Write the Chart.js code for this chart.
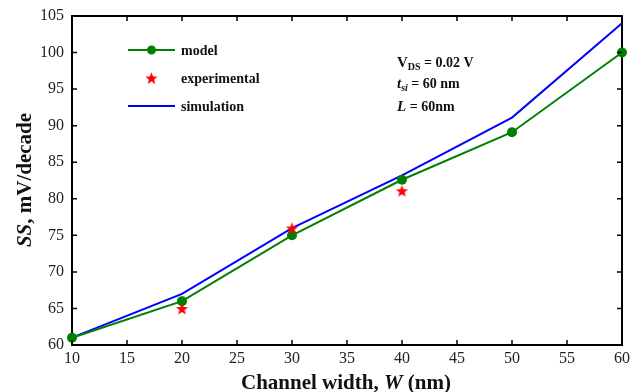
<!DOCTYPE html>
<html>
<head>
<meta charset="utf-8">
<script src="https://cdn.jsdelivr.net/npm/chart.js@4"></script>
<style>
  html, body { margin: 0; padding: 0; background: #fff; }
  #wrap { width: 630px; height: 392px; }
</style>
</head>
<body>
<div id="wrap"><canvas id="ss"></canvas></div>
<script>
const widths = [10, 20, 30, 40, 50, 60];
const modelValues = [61, 66, 75, 82.6, 89.1, 100];
const simulationValues = [61, 67, 76, 83.2, 91.1, 104];
const expWidths = [20, 30, 40];
const expValues = [65, 76, 81.1];
const xTicks = [10, 15, 20, 25, 30, 35, 40, 45, 50, 55, 60];
const yTicks = [60, 65, 70, 75, 80, 85, 90, 95, 100, 105];

const FONT = "'Liberation Serif', 'Times New Roman', serif";

// filled 5-point star for experimental points
function makeStar(r, color) {
  const c = document.createElement('canvas');
  c.width = c.height = Math.ceil(r * 2 + 2);
  const g = c.getContext('2d');
  g.fillStyle = color;
  g.beginPath();
  for (let i = 0; i < 10; i++) {
    const rad = i % 2 == 0 ? r : r * 0.42;
    const a = -Math.PI / 2 + i * Math.PI / 5;
    const px = c.width / 2 + rad * Math.cos(a), py = c.height / 2 + rad * Math.sin(a) + r * 0.1;
    if (i == 0) g.moveTo(px, py); else g.lineTo(px, py);
  }
  g.closePath();
  g.fill();
  return c;
}
const star = makeStar(6.5, '#ff0000');

// draw mixed-style text pieces: [text, italic, sizeOverride, dy]
function drawRuns(ctx, runs, x, y, size, align) {
  let total = 0;
  runs.forEach(r => {
    ctx.font = `${r[1] ? 'italic ' : ''}bold ${r[2] || size}px ${FONT}`;
    total += ctx.measureText(r[0]).width;
  });
  let cx = align == 'center' ? x - total / 2 : x;
  runs.forEach(r => {
    ctx.font = `${r[1] ? 'italic ' : ''}bold ${r[2] || size}px ${FONT}`;
    ctx.fillText(r[0], cx, y + (r[3] || 0));
    cx += ctx.measureText(r[0]).width;
  });
}

const decorations = {
  id: 'decorations',
  afterDraw(chart) {
    const ctx = chart.ctx;
    const a = chart.chartArea;
    const xs = chart.scales.x, ys = chart.scales.y;
    ctx.save();
    // inward ticks on all four sides
    ctx.strokeStyle = '#000';
    ctx.lineWidth = 1.5;
    ctx.beginPath();
    xTicks.forEach(v => {
      const px = xs.getPixelForValue(v);
      ctx.moveTo(px, a.bottom); ctx.lineTo(px, a.bottom - 5);
      ctx.moveTo(px, a.top); ctx.lineTo(px, a.top + 5);
    });
    yTicks.forEach(v => {
      const py = ys.getPixelForValue(v);
      ctx.moveTo(a.left, py); ctx.lineTo(a.left + 5, py);
      ctx.moveTo(a.right, py); ctx.lineTo(a.right - 5, py);
    });
    ctx.stroke();

    ctx.fillStyle = '#111';
    ctx.textBaseline = 'alphabetic';
    ctx.textAlign = 'left';
    // x title
    drawRuns(ctx, [['Channel width, ', false], ['W', true], [' (nm)', false]], 346, 389, 21, 'center');
    // y title
    ctx.save();
    ctx.translate(31, 180);
    ctx.rotate(-Math.PI / 2);
    drawRuns(ctx, [['SS', true], [', mV/decade', false]], 0, 0, 21, 'center');
    ctx.restore();

    // legend
    const lx = 128, lw = 47;
    ctx.lineWidth = 2;
    ctx.strokeStyle = '#008000';
    ctx.beginPath(); ctx.moveTo(lx, 50); ctx.lineTo(lx + lw, 50); ctx.stroke();
    ctx.fillStyle = '#008000';
    ctx.beginPath(); ctx.arc(lx + lw / 2, 50, 4.5, 0, Math.PI * 2); ctx.fill();
    ctx.drawImage(star, lx + lw / 2 - star.width / 2, 78 - star.height / 2);
    ctx.strokeStyle = '#0000ff';
    ctx.beginPath(); ctx.moveTo(lx, 106); ctx.lineTo(lx + lw, 106); ctx.stroke();
    ctx.fillStyle = '#111';
    ctx.font = `bold 14px ${FONT}`;
    ctx.fillText('model', 181, 55);
    ctx.fillText('experimental', 181, 83);
    ctx.fillText('simulation', 181, 111);

    // conditions
    drawRuns(ctx, [['V', false, 15], ['DS', false, 10, 3], [' = 0.02 V', false, 14]], 397, 67, 14, 'left');
    drawRuns(ctx, [['t', true, 15], ['si', true, 10, 3], [' = 60 nm', false, 14]], 397, 88, 14, 'left');
    drawRuns(ctx, [['L', true, 15], [' = 60nm', false, 14]], 397, 111, 14, 'left');
    ctx.restore();
  }
};

new Chart(document.getElementById('ss'), {
  type: 'line',
  data: {
    datasets: [
      {
        label: 'model',
        data: widths.map((w, i) => ({x: w, y: modelValues[i]})),
        borderColor: '#008000',
        backgroundColor: '#008000',
        borderWidth: 2,
        pointRadius: 5,
        pointBorderWidth: 0,
        order: 1
      },
      {
        label: 'experimental',
        data: expWidths.map((w, i) => ({x: w, y: expValues[i]})),
        showLine: false,
        pointStyle: star,
        order: 0
      },
      {
        label: 'simulation',
        data: widths.map((w, i) => ({x: w, y: simulationValues[i]})),
        borderColor: '#0000ff',
        borderWidth: 2,
        pointRadius: 0,
        order: 2
      }
    ]
  },
  options: {
    responsive: true,
    maintainAspectRatio: false,
    animation: false,
    clip: false,
    layout: { padding: { top: 16, right: 8, left: 0, bottom: 0 } },
    plugins: { legend: { display: false }, tooltip: { enabled: false } },
    scales: {
      x: {
        type: 'linear',
        min: 10,
        max: 60,
        afterBuildTicks: (s) => { s.ticks = xTicks.map(v => ({value: v})); },
        afterFit: (s) => { s.height = 47; s.paddingLeft = 0; s.paddingRight = 0; },
        grid: { display: false, drawTicks: false },
        border: { display: true, color: '#000', width: 2 },
        ticks: { color: '#222', padding: 4, maxRotation: 0, font: { family: FONT, size: 16 } }
      },
      y: {
        min: 60,
        max: 105,
        afterBuildTicks: (s) => { s.ticks = yTicks.map(v => ({value: v})); },
        afterFit: (s) => { s.width = 72; s.paddingTop = 0; s.paddingBottom = 0; },
        grid: { display: false, drawTicks: false },
        border: { display: true, color: '#000', width: 2 },
        ticks: { color: '#222', padding: 8, font: { family: FONT, size: 16 } }
      },
      x2: {
        type: 'linear', position: 'top', min: 10, max: 60,
        afterFit: (s) => { s.height = 0; },
        grid: { display: false, drawTicks: false },
        border: { display: true, color: '#000', width: 2 },
        ticks: { display: false }
      },
      y2: {
        position: 'right', min: 60, max: 105,
        afterFit: (s) => { s.width = 0; },
        grid: { display: false, drawTicks: false },
        border: { display: true, color: '#000', width: 2 },
        ticks: { display: false }
      }
    }
  },
  plugins: [decorations]
});
</script>
</body>
</html>
